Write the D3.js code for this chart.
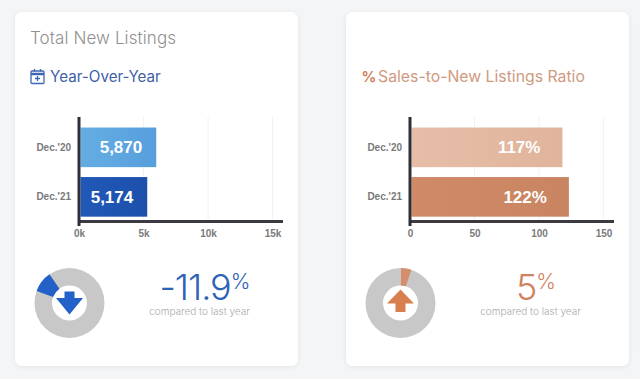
<!DOCTYPE html>
<html>
<head>
<meta charset="utf-8">
<script src="https://cdn.jsdelivr.net/npm/d3@7"></script>
<style>
  html, body { margin: 0; padding: 0; background: #f4f5f7; overflow: hidden; }
  text { font-family: Inter, "Open Sans", sans-serif; }
  .tick-label { font-family: "Liberation Sans", Arial, sans-serif; font-size: 10px; font-weight: bold; fill: #7a7a7a; }
  .bar-label { font-family: "Liberation Sans", Arial, sans-serif; font-size: 17px; font-weight: bold; fill: #fff; }
</style>
</head>
<body>
<div id="chart-area"></div>
<script>
// values
let periods = ["Dec.'20", "Dec.'21"];

let listingsValues = [5870, 5174];
let listingsLabels = ["5,870", "5,174"];
let listingsTicks = [0, 5000, 10000, 15000];
let listingsChange = "-11.9";
let listingsSlice = [-70, -35]; // degrees, as drawn in the donut

let ratioValues = [117, 122];
let ratioLabels = ["117%", "122%"];
let ratioTicks = [0, 50, 100, 150];
let ratioChange = "5";
let ratioSlice = [1, 18];

let svg = d3.select("#chart-area").append("svg")
	.attr("width", 640)
	.attr("height", 379)
	.style("display", "block");

let defs = svg.append("defs");

let shadow = defs.append("filter").attr("id", "card-shadow")
	.attr("x", "-10%").attr("y", "-10%").attr("width", "120%").attr("height", "120%");
shadow.append("feDropShadow")
	.attr("dx", 0).attr("dy", 1).attr("stdDeviation", 2.5)
	.attr("flood-color", "#000").attr("flood-opacity", 0.07);

function addGradient(id, from, to) {
	let g = defs.append("linearGradient").attr("id", id);
	g.append("stop").attr("offset", "0%").attr("stop-color", from);
	g.append("stop").attr("offset", "100%").attr("stop-color", to);
}
addGradient("bar-blue-light", "#64ade3", "#569fdd");
addGradient("bar-blue-dark", "#2159b8", "#1c50ab");
addGradient("bar-tan-light", "#e6bea8", "#e0b49c");
addGradient("bar-tan-dark", "#cf8a68", "#c98462");

let toRad = deg => deg * Math.PI / 180;

// one card: background, titles, bars, donut, change text
function drawCard(cfg) {
	let card = svg.append("g").attr("transform", "translate(" + cfg.left + ",0)");

	card.append("rect")
		.attr("x", 0).attr("y", 12)
		.attr("width", 283).attr("height", 354)
		.attr("rx", 7)
		.attr("fill", "#fff")
		.attr("filter", "url(#card-shadow)");

	if (cfg.title) {
		card.append("text")
			.attr("x", 15).attr("y", 44)
			.attr("font-size", 17).attr("font-weight", 300)
			.attr("letter-spacing", 0.1)
			.attr("fill", "#909090")
			.text(cfg.title);
	}

	cfg.drawIcon(card);

	card.append("text")
		.attr("x", cfg.subtitleX).attr("y", 82)
		.attr("font-size", cfg.subtitleSize).attr("font-weight", 400)
		.attr("fill", cfg.subtitleColor)
		.text(cfg.subtitle);

	// bars
	let x = d3.scaleLinear().domain(cfg.domain).range([64, 257.5]);
	let y = d3.scaleBand().domain(periods).range([120.1, 224.1]).paddingInner(0.2).paddingOuter(0.15);
	let barShift = 1.5;

	card.append("g").selectAll("line")
		.data(cfg.ticks.slice(1))
		.join("line")
		.attr("x1", d => x(d)).attr("x2", d => x(d))
		.attr("y1", 117).attr("y2", 221)
		.attr("stroke", "#f2f2f2");

	card.append("g").selectAll("rect")
		.data(cfg.values)
		.join("rect")
		.attr("x", x(0) + barShift)
		.attr("y", (d, i) => y(periods[i]))
		.attr("width", d => x(d) - x(0))
		.attr("height", y.bandwidth())
		.attr("fill", (d, i) => "url(#" + cfg.gradients[i] + ")");

	card.append("g").selectAll("text")
		.data(cfg.values)
		.join("text")
		.attr("class", "bar-label")
		.attr("x", d => x(d) + barShift - cfg.labelInset)
		.attr("y", (d, i) => y(periods[i]) + y.bandwidth() / 2 + 6)
		.attr("text-anchor", "end")
		.text((d, i) => cfg.labels[i]);

	// axes
	let xAxis = d3.axisBottom(x).tickValues(cfg.ticks).tickFormat(cfg.tickFormat).tickSize(0).tickPadding(8);
	let gx = card.append("g").attr("transform", "translate(0,221.5)").call(xAxis);
	gx.select(".domain").remove();
	gx.selectAll("text").attr("class", "tick-label");

	card.append("line")
		.attr("x1", 63).attr("x2", 268)
		.attr("y1", 221.5).attr("y2", 221.5)
		.attr("stroke", "#3a3a40").attr("stroke-width", 3);
	card.append("line")
		.attr("x1", 64).attr("x2", 64)
		.attr("y1", 117).attr("y2", 226)
		.attr("stroke", "#2e2f38").attr("stroke-width", 3);

	let yAxis = d3.axisLeft(y).tickSize(0).tickPadding(8);
	let gy = card.append("g").attr("transform", "translate(64,0)").call(yAxis);
	gy.select(".domain").remove();
	gy.selectAll("text").attr("class", "tick-label");

	// donut
	let donut = card.append("g").attr("transform", "translate(54.5,303)");
	let arc = d3.arc().innerRadius(17.5).outerRadius(35);
	donut.append("path")
		.attr("d", arc({startAngle: 0, endAngle: 2 * Math.PI}))
		.attr("fill", "#c8c8c8");
	donut.append("path")
		.attr("d", arc({startAngle: toRad(cfg.slice[0]), endAngle: toRad(cfg.slice[1])}))
		.attr("fill", cfg.sliceColor);

	donut.append("path")
		.attr("d", cfg.arrow)
		.attr("fill", cfg.arrowColor);

	// change text
	let change = card.append("text")
		.attr("x", 190).attr("y", 300)
		.attr("text-anchor", "middle")
		.attr("fill", cfg.changeColor);
	change.append("tspan").attr("font-size", 36).attr("font-weight", 300).attr("letter-spacing", -1).text(cfg.changeText);
	change.append("tspan").attr("font-size", 21).attr("font-weight", 300).attr("dy", -11).text("%");

	card.append("text")
		.attr("x", 184.5).attr("y", 315)
		.attr("text-anchor", "middle")
		.attr("font-size", 10).attr("font-weight", 300)
		.attr("fill", "#aaa")
		.text("compared to last year");
}

drawCard({
	left: 15,
	title: "Total New Listings",
	subtitle: "Year-Over-Year",
	subtitleX: 35,
	subtitleSize: 15.2,
	subtitleColor: "#3f5fa8",
	drawIcon: card => {
		let icon = card.append("g").attr("transform", "translate(15,68.5)")
			.attr("fill", "none").attr("stroke", "#3f66b5").attr("stroke-width", 1.3);
		icon.append("rect").attr("x", 1).attr("y", 2.5).attr("width", 13).attr("height", 12.5).attr("rx", 1);
		icon.append("line").attr("x1", 1).attr("x2", 14).attr("y1", 5.5).attr("y2", 5.5).attr("stroke-width", 2.5);
		icon.append("line").attr("x1", 4.5).attr("x2", 4.5).attr("y1", 0.5).attr("y2", 3);
		icon.append("line").attr("x1", 10.5).attr("x2", 10.5).attr("y1", 0.5).attr("y2", 3);
		icon.append("path").attr("d", "M7.5,7.5V12.5M5,10H10");
	},
	values: listingsValues,
	labels: listingsLabels,
	domain: [0, 15000],
	ticks: listingsTicks,
	tickFormat: d => (d / 1000) + "k",
	gradients: ["bar-blue-light", "bar-blue-dark"],
	labelInset: 14,
	slice: listingsSlice,
	sliceColor: "#2361c9",
	arrow: "M-5,-11.5H5V-5H13.5L0,11.5L-13.5,-5H-5Z",
	arrowColor: "#2361c9",
	changeText: listingsChange,
	changeColor: "#2c62b8"
});

drawCard({
	left: 346,
	subtitle: "Sales-to-New Listings Ratio",
	subtitleX: 32,
	subtitleSize: 15.8,
	subtitleColor: "#cf9a7f",
	drawIcon: card => {
		card.append("text")
			.attr("x", 15.5).attr("y", 82)
			.attr("font-family", "'Liberation Sans', Arial, sans-serif")
			.attr("font-size", 14.5).attr("font-weight", 700)
			.attr("fill", "#d0805a")
			.text("%");
	},
	values: ratioValues,
	labels: ratioLabels,
	domain: [0, 150],
	ticks: ratioTicks,
	tickFormat: d => d,
	gradients: ["bar-tan-light", "bar-tan-dark"],
	labelInset: 22,
	slice: ratioSlice,
	sliceColor: "#d58d6c",
	arrow: "M-5,9V0.5H-13.5L0,-13.5L13.5,0.5H5V9Z",
	arrowColor: "#d87f50",
	changeText: ratioChange,
	changeColor: "#cf8360"
});
</script>
</body>
</html>
